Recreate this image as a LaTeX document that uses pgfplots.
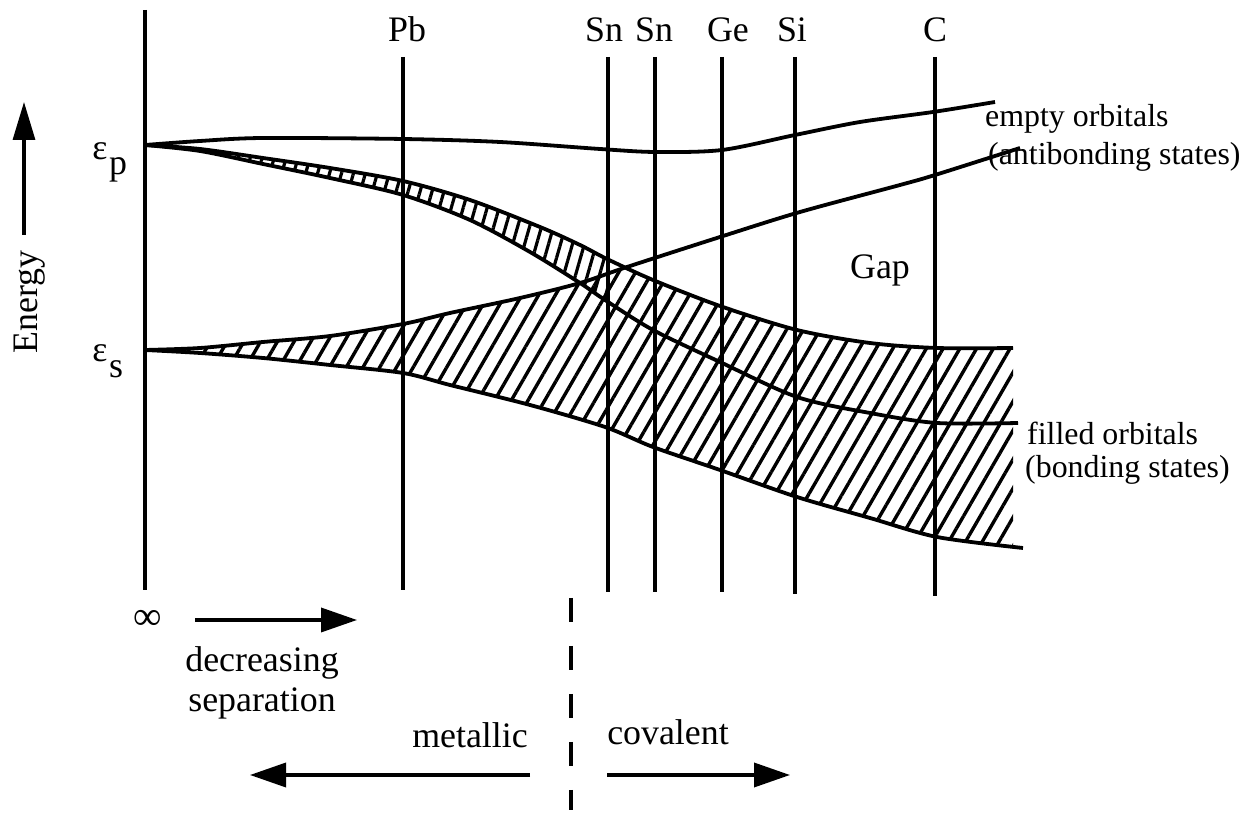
\documentclass[border=0pt]{standalone}
\usepackage{pgfplots}
\pgfplotsset{compat=1.18}
\usepgfplotslibrary{fillbetween}
\usetikzlibrary{patterns.meta,arrows.meta}
\usepackage{fontspec}
\setmainfont{Liberation Serif}

\begin{document}
\begin{tikzpicture}
\begin{axis}[width=1247bp,height=822bp,scale only axis,
  xmin=0,xmax=1247,ymin=-822,ymax=0,
  hide axis,clip=false,
  every axis plot/.append style={line width=3.8bp,black}]
\path (0,0) rectangle (1247,-822);

% boundaries of the hatched bands (invisible)
\addplot[smooth,draw=none,name path=Aleft] coordinates {(145,-145) (200,-149) (263,-158) (330,-168) (403,-181) (470,-200) (540,-227) (580,-245) (607,-259)};
\addplot[smooth,draw=none,name path=Bleft] coordinates {(145,-145) (200,-151) (263,-164) (330,-178) (403,-195) (470,-220) (530,-252) (580,-283) (607,-301)};
\addplot[smooth,draw=none,name path=E] coordinates {(145,-350) (200,-348) (263,-342) (330,-336) (403,-324) (450,-313) (520,-298) (580,-283) (623,-268) (653,-280) (720,-306) (797,-330) (870,-343) (937,-348) (1013,-348)};
\addplot[smooth,draw=none,name path=Dh] coordinates {(145,-350) (200,-353) (263,-358) (330,-365) (403,-373) (450,-385) (530,-405) (605,-427) (653,-447) (720,-470) (797,-497) (870,-518) (937,-537) (1013,-547)};

% hatched bands
\addplot[draw=none,pattern={Lines[angle=74,distance=11.5bp,line width=3.2bp]}] fill between[of=Aleft and Bleft];
\addplot[draw=none,pattern={Lines[angle=60,distance=14.5bp,line width=3.4bp]}] fill between[of=E and Dh];

% energy curves
\addplot[smooth] coordinates {(145,-145) (200,-141) (263,-138) (403,-139) (500,-142) (600,-149) (655,-152) (722,-150) (795,-135) (860,-122) (933,-112) (995,-102)};
\addplot[smooth] coordinates {(145,-145) (200,-149) (263,-158) (330,-168) (403,-181) (470,-200) (540,-227) (580,-245) (607,-259) (653,-280) (720,-306) (797,-330) (870,-343) (937,-348) (1013,-348)};
\addplot[smooth] coordinates {(145,-145) (200,-151) (263,-164) (330,-178) (403,-195) (470,-220) (530,-252) (580,-283) (605,-300) (653,-330) (720,-362) (797,-397) (870,-413) (937,-423) (1018,-423)};
\addplot[smooth] coordinates {(145,-350) (200,-348) (263,-342) (330,-336) (403,-324) (450,-313) (520,-298) (580,-283) (627,-267) (720,-237) (800,-212) (900,-185) (935,-175) (1020,-148)};
\addplot[smooth] coordinates {(145,-350) (200,-353) (263,-358) (330,-365) (403,-373) (450,-385) (530,-405) (605,-427) (653,-447) (720,-470) (797,-497) (870,-518) (937,-537) (1023,-548)};

% vertical lines
\addplot[line width=3.4bp] coordinates {(145,-10) (145,-590)};
\addplot[line width=3.4bp] coordinates {(403,-57) (403,-590)};
\addplot[line width=3.4bp] coordinates {(608,-57) (608,-592)};
\addplot[line width=3.4bp] coordinates {(655,-57) (655,-592)};
\addplot[line width=3.4bp] coordinates {(722,-57) (722,-592)};
\addplot[line width=3.4bp] coordinates {(795,-57) (795,-594)};
\addplot[line width=3.4bp] coordinates {(935,-57) (935,-596)};
\addplot[line width=3.4bp,dash pattern=on 24bp off 24bp] coordinates {(571,-598) (571,-810)};

% arrows
\addplot[line width=3.6bp,-{Triangle[length=36bp,width=24bp]}] coordinates {(195,-620) (357,-620)};
\addplot[line width=3.6bp,-{Triangle[length=36bp,width=24bp]}] coordinates {(530,-775) (250,-775)};
\addplot[line width=3.6bp,-{Triangle[length=36bp,width=24bp]}] coordinates {(607,-775) (790,-775)};
\addplot[line width=3.2bp,-{Triangle[length=38bp,width=22bp]}] coordinates {(24,-235) (24,-102)};

% labels
\begin{scope}[every node/.style={font=\fontsize{36}{40}\selectfont,inner sep=0pt}]
\node[anchor=base] at (407,-42) {Pb};
\node[anchor=base] at (604,-42) {Sn};
\node[anchor=base] at (654,-42) {Sn};
\node[anchor=base] at (728,-42) {Ge};
\node[anchor=base] at (792,-42) {Si};
\node[anchor=base] at (935,-42) {C};
\node[anchor=base] at (880,-279) {Gap};
\node[rotate=90] at (30,-302) {Energy};
\node[anchor=base] at (100,-160) {ε};
\node[anchor=base] at (118,-175) {p};
\node[anchor=base] at (100,-362) {ε};
\node[anchor=base] at (116,-378) {s};
\node[font=\fontsize{40}{44}\selectfont] at (148,-620) {∞};
\node[anchor=base] at (262,-672) {decreasing};
\node[anchor=base] at (262,-712) {separation};
\node[anchor=base] at (470,-748) {metallic};
\node[anchor=base] at (668,-745) {covalent};
\end{scope}
\begin{scope}[every node/.style={font=\fontsize{32}{36}\selectfont,inner sep=0pt}]
\node[anchor=base west] at (985,-127) {empty orbitals};
\node[anchor=base west] at (988,-165) {(antibonding states)};
\node[anchor=base west] at (1027,-445) {filled orbitals};
\node[anchor=base west] at (1025,-478) {(bonding states)};
\end{scope}
\end{axis}
\end{tikzpicture}
\end{document}
